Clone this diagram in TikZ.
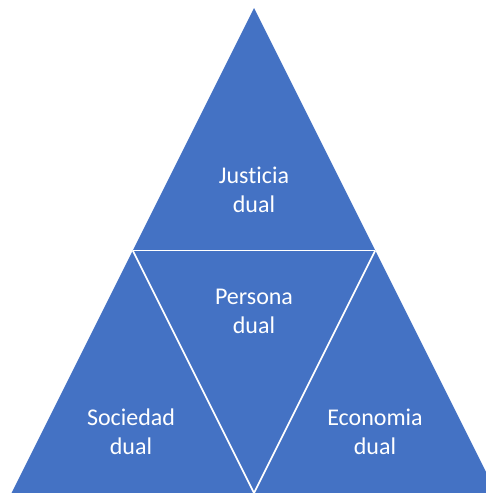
\documentclass[tikz,border=0pt]{standalone}
\usepackage{fontspec}
\setmainfont{Carlito}[Ligatures={NoCommon}]
\definecolor{officeblue}{HTML}{4472C4}
\begin{document}
\begin{tikzpicture}[x=1pt,y=-1pt,
  lbl/.style={text=white,align=center,inner sep=0pt,font=\fontsize{24}{29}\selectfont},
  sep/.style={draw=white,line width=1.6pt}]
\useasboundingbox (0,0) rectangle (486,493);
\clip (0,0) rectangle (486,493);
\coordinate (apex) at (254,8);
\coordinate (bl) at (11.5,493);
\coordinate (br) at (496.5,493);
\coordinate (ml) at (132.75,250.5);
\coordinate (mr) at (375.25,250.5);
\coordinate (mb) at (254,493);
\fill[officeblue] (apex) -- (br) -- (bl) -- cycle;
\draw[sep] (ml) -- (mr);
\draw[sep] (ml) -- (mb);
\draw[sep] (mr) -- (mb);
\node[lbl] (justicia) at (254,190) {Justicia\\dual};
\node[lbl] (persona) at (254,311) {Persona\\dual};
\node[lbl] (sociedad) at (131,432) {Sociedad\\dual};
\node[lbl] (economia) at (375,432) {Economia\\dual};
\end{tikzpicture}
\end{document}
